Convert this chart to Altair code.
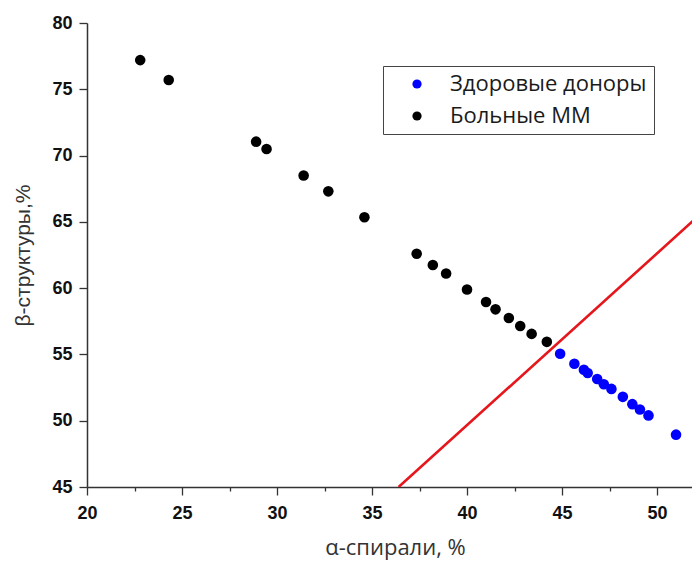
import altair as alt
import pandas as pd

# Data
mm_x = [22.8, 24.3, 28.9, 29.45, 31.4, 32.7, 34.6, 37.35, 38.2, 38.9, 40.0, 41.0, 41.5, 42.2, 42.8, 43.4, 44.2]
mm_y = [77.2, 75.7, 71.05, 70.5, 68.5, 67.3, 65.35, 62.6, 61.75, 61.1, 59.9, 58.95, 58.4, 57.75, 57.15, 56.55, 55.95]
hd_x = [44.9, 45.65, 46.15, 46.35, 46.85, 47.2, 47.6, 48.2, 48.7, 49.1, 49.55, 51.0]
hd_y = [55.05, 54.3, 53.85, 53.6, 53.15, 52.75, 52.4, 51.8, 51.25, 50.85, 50.4, 48.95]
line_x = [36.4, 52.3]
line_y = [45.0, 65.6]

groups = ["Здоровые доноры", "Больные ММ"]
colors = ["#0000FF", "#000000"]

pts = pd.DataFrame({
    "x": hd_x + mm_x,
    "y": hd_y + mm_y,
    "g": [groups[0]] * len(hd_x) + [groups[1]] * len(mm_x),
})
ln = pd.DataFrame({"x": line_x, "y": line_y})

x_ticks = [20 + 2.5 * i for i in range(13)]
y_ticks = [45 + 2.5 * i for i in range(15)]

xscale = alt.Scale(domain=[20, 51.84], nice=False, zero=False)
yscale = alt.Scale(domain=[45, 80], nice=False, zero=False)

tick_size = {"condition": {"test": "datum.value % 5 === 0", "value": 8}, "value": 4}

xaxis = alt.Axis(
    title="α-спирали, %", values=x_ticks, grid=False, labelFlush=False,
    labelExpr="datum.value % 5 === 0 ? datum.label : ''",
    labelFont="Liberation Sans", labelFontWeight="bold", labelFontSize=18, labelColor="#111",
    labelPadding=9, tickSize=tick_size, tickColor="#333", tickWidth=1.3,
    domainColor="#333", domainWidth=1.5,
    titleFont="Open Sans", titleFontWeight="normal", titleFontSize=22, titleColor="#333",
    titleBaseline="alphabetic", titleY=67, titleX=308, titleAlign="center",
)
yaxis = alt.Axis(
    title="β-структуры,%", values=y_ticks, grid=False, labelFlush=False,
    labelExpr="datum.value % 5 === 0 ? datum.label : ''",
    labelFont="Liberation Sans", labelFontWeight="bold", labelFontSize=18, labelColor="#111",
    labelPadding=7, tickSize=tick_size, tickColor="#333", tickWidth=1.3,
    domainColor="#333", domainWidth=1.5,
    titleFont="Liberation Sans", titleFontWeight="normal", titleFontSize=21, titleColor="#333",
    titlePadding=18,
)

points = alt.Chart(pts).mark_circle(size=112, opacity=1).encode(
    x=alt.X("x:Q", scale=xscale, axis=xaxis),
    y=alt.Y("y:Q", scale=yscale, axis=yaxis),
    color=alt.Color(
        "g:N",
        scale=alt.Scale(domain=groups, range=colors),
        legend=alt.Legend(
            title=None, orient="none", legendX=296, legendY=43,
            labelFont="Open Sans", labelFontSize=22, labelColor="#1a1a1a",
            symbolSize=85, symbolType="circle", symbolOffset=16, labelOffset=22,
            strokeColor="#444", padding=7, rowPadding=10, labelLimit=400,
        ),
    ),
)

line = alt.Chart(ln).mark_line(color="#E5161C", strokeWidth=2.6, clip=True).encode(
    x=alt.X("x:Q", scale=xscale),
    y=alt.Y("y:Q", scale=yscale),
)

chart = (line + points).properties(
    width=605, height=464,
    autosize=alt.AutoSizeParams(type="none"),
    padding={"left": 79, "top": 15, "right": 0, "bottom": 75},
).configure_view(stroke=None)

chart.save("out.html", embed_options={"renderer": "svg", "actions": False})
